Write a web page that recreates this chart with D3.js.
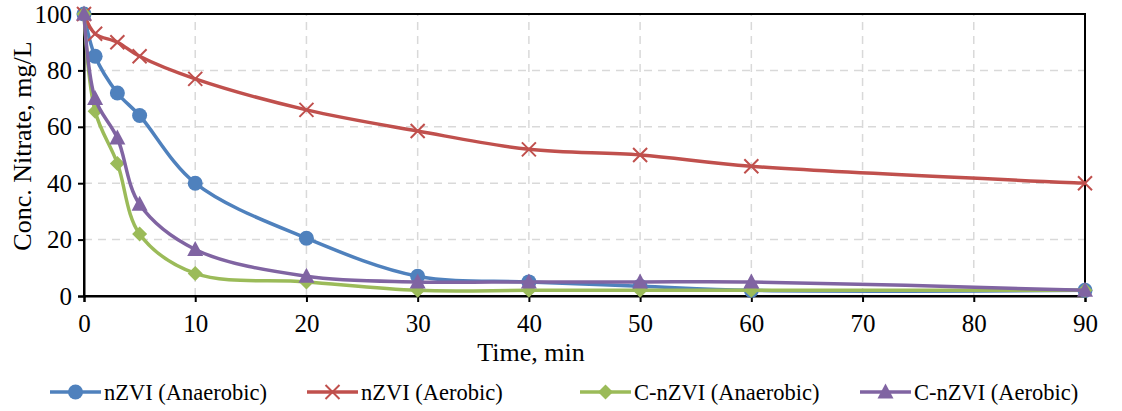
<!DOCTYPE html>
<html>
<head>
<meta charset="utf-8">
<script src="https://cdn.jsdelivr.net/npm/d3@7"></script>
<style>
  body { margin: 0; background: #fff; }
  text { font-family: "Liberation Serif", "Times New Roman", serif; fill: #000; }
</style>
</head>
<body>
<div id="graphic"></div>
<script>
// Data
const times = [0, 1, 3, 5, 10, 20, 30, 40, 50, 60, 90];
const nzviAnaerobic = [100, 85, 72, 64, 40, 20.5, 7, 5, 3.5, 2, 2];
const nzviAerobic = [100, 93, 90, 85, 77, 66, 58.5, 52, 50, 46, 40];
const cnzviAnaerobic = [100, 65.5, 47, 22, 8, 5, 2, 2, 2, 2, 2];
const cnzviAerobic = [100, 70, 56, 32.5, 16.5, 7, 5, 5, 5, 5, 2];
const seriesNames = ["nZVI (Anaerobic)", "nZVI (Aerobic)", "C-nZVI (Anaerobic)", "C-nZVI (Aerobic)"];
const xTicks = [0, 10, 20, 30, 40, 50, 60, 70, 80, 90];
const yTicks = [0, 20, 40, 60, 80, 100];

const series = [
    { name: seriesNames[0], values: nzviAnaerobic, color: "#4F81BD", marker: "circle" },
    { name: seriesNames[1], values: nzviAerobic, color: "#C0504D", marker: "cross" },
    { name: seriesNames[2], values: cnzviAnaerobic, color: "#9BBB59", marker: "diamond" },
    { name: seriesNames[3], values: cnzviAerobic, color: "#8064A2", marker: "triangle" }
];

const svgWidth = 1122;
const svgHeight = 411;
const margin = { left: 84, right: 37, top: 14, bottom: 115 };

const svg = d3.select("#graphic")
    .append("svg")
    .attr("width", svgWidth)
    .attr("height", svgHeight);

const xScale = d3.scaleLinear()
    .domain([0, 90])
    .range([margin.left, svgWidth - margin.right]);

const yScale = d3.scaleLinear()
    .domain([0, 100])
    .range([svgHeight - margin.bottom, margin.top]);

// Gridlines
svg.append("g")
    .selectAll("line")
    .data(xTicks.slice(1))
    .enter()
    .append("line")
    .attr("x1", d => xScale(d)).attr("x2", d => xScale(d))
    .attr("y1", yScale(0)).attr("y2", yScale(100))
    .attr("stroke", "#d9d9d9").attr("stroke-width", 1.5)
    .attr("stroke-dasharray", "8,6");

svg.append("g")
    .selectAll("line")
    .data(yTicks.slice(1))
    .enter()
    .append("line")
    .attr("x1", xScale(0)).attr("x2", xScale(90))
    .attr("y1", d => yScale(d)).attr("y2", d => yScale(d))
    .attr("stroke", "#d9d9d9").attr("stroke-width", 1.5)
    .attr("stroke-dasharray", "8,6");

// Plot border
svg.append("rect")
    .attr("x", xScale(0))
    .attr("y", yScale(100))
    .attr("width", xScale(90) - xScale(0))
    .attr("height", yScale(0) - yScale(100))
    .attr("fill", "none")
    .attr("stroke", "#000")
    .attr("stroke-width", 2);

// Axes
const xAxis = d3.axisBottom(xScale).tickValues(xTicks).tickSize(6).tickPadding(12);
const gx = svg.append("g")
    .attr("transform", "translate(0," + yScale(0) + ")")
    .call(xAxis);

const yAxis = d3.axisLeft(yScale).tickValues(yTicks).tickSize(6).tickPadding(6);
const gy = svg.append("g")
    .attr("transform", "translate(" + xScale(0) + ",0)")
    .call(yAxis);

[gx, gy].forEach(g => {
    g.select(".domain").attr("stroke", "#000").attr("stroke-width", 2);
    g.selectAll(".tick line").attr("stroke", "#000").attr("stroke-width", 2);
    g.selectAll(".tick text")
        .style("font-family", "'Liberation Serif', 'Times New Roman', serif")
        .style("font-size", "25px")
        .attr("fill", "#000");
});

// Axis titles
svg.append("text")
    .attr("x", 531)
    .attr("y", 361)
    .attr("text-anchor", "middle")
    .style("font-size", "26px")
    .text("Time, min");

svg.append("text")
    .attr("transform", "translate(31,146) rotate(-90)")
    .attr("text-anchor", "middle")
    .style("font-size", "26px")
    .text("Conc. Nitrate, mg/L");

// Marker drawing
function drawMarker(sel, type, color) {
    if (type === "circle") {
        sel.append("circle").attr("r", 7.5).attr("fill", color);
    } else if (type === "cross") {
        sel.append("path")
            .attr("d", "M-7,-7L7,7M-7,7L7,-7")
            .attr("stroke", color).attr("stroke-width", 2).attr("fill", "none");
    } else if (type === "diamond") {
        sel.append("path").attr("d", "M0,-7.5L7.5,0L0,7.5L-7.5,0Z").attr("fill", color);
    } else if (type === "triangle") {
        sel.append("path").attr("d", "M0,-8.5L8,6.5L-8,6.5Z").attr("fill", color);
    }
}

const line = d3.line()
    .x(d => xScale(d[0]))
    .y(d => yScale(d[1]))
    .curve(d3.curveCatmullRom.alpha(0.5));

series.forEach(s => {
    const pts = times.map((t, i) => [t, s.values[i]]);
    svg.append("path")
        .datum(pts)
        .attr("d", line)
        .attr("fill", "none")
        .attr("stroke", s.color)
        .attr("stroke-width", 3.5);
    svg.append("g")
        .selectAll("g")
        .data(pts)
        .enter()
        .append("g")
        .attr("transform", d => "translate(" + xScale(d[0]) + "," + yScale(d[1]) + ")")
        .each(function () { drawMarker(d3.select(this), s.marker, s.color); });
});

// Legend
const legendX = [50, 307, 580, 860];
const legendY = 392;
series.forEach((s, i) => {
    const g = svg.append("g").attr("transform", "translate(" + legendX[i] + "," + legendY + ")");
    g.append("line")
        .attr("x1", 0).attr("x2", 51)
        .attr("y1", 0).attr("y2", 0)
        .attr("stroke", s.color).attr("stroke-width", 3.5);
    drawMarker(g.append("g").attr("transform", "translate(25.5,0)"), s.marker, s.color);
    g.append("text")
        .attr("x", 54)
        .attr("y", 8)
        .style("font-size", "22.5px")
        .text(s.name);
});
</script>
</body>
</html>
